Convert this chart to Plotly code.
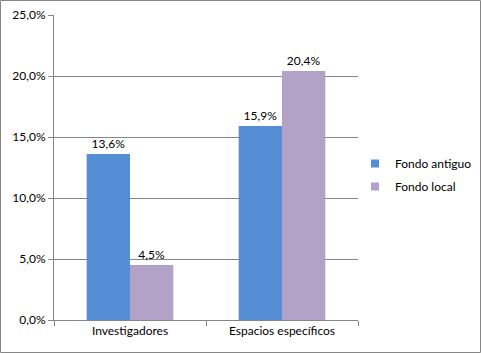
import plotly.graph_objects as go

categories = ["Investigadores", "Espacios específicos"]
series_names = ["Fondo antiguo", "Fondo local"]
fondo_antiguo = [0.136, 0.159]
fondo_local = [0.045, 0.204]
y_ticks = [0, 0.05, 0.10, 0.15, 0.20, 0.25]

colors = ["#558ED5", "#B3A2C7"]
W, H = 481, 353
ml, mr, mt, mb = 54, 123, 15, 33
pw, ph = W - ml - mr, H - mt - mb
FONT = "Lato, Open Sans, sans-serif"

fig = go.Figure()
for name, vals, c in zip(series_names, [fondo_antiguo, fondo_local], colors):
    fig.add_trace(go.Bar(
        x=categories, y=vals, name=name, marker=dict(color=c, line=dict(width=0)),
        texttemplate="%{y:.1%}", textposition="outside",
        textfont=dict(family=FONT, size=12, color="#000"),
        cliponaxis=False, showlegend=False, legendgroup=name,
    ))
# legend entries with small square keys, as in the reference
for name, c in zip(series_names, colors):
    fig.add_trace(go.Scatter(
        x=[None], y=[None], mode="markers", name=name, legendgroup=name,
        marker=dict(symbol="square", size=8, color=c), showlegend=True,
    ))

fig.update_layout(
    width=W, height=H, margin=dict(l=ml, r=mr, t=mt, b=mb, autoexpand=False),
    paper_bgcolor="white", plot_bgcolor="white",
    separators=",.", barmode="group", bargap=0.43, bargroupgap=0,
    font=dict(family=FONT, size=12, color="#000"),
    showlegend=True,
    legend=dict(x=(355 - ml) / pw, xanchor="left", y=(320 - 175) / ph, yanchor="middle",
                font=dict(size=12), tracegroupgap=4, itemwidth=30, bgcolor="rgba(0,0,0,0)"),
    xaxis=dict(showline=True, linecolor="#868686", linewidth=1, ticks="outside",
               tickson="boundaries", ticklen=5, tickcolor="#868686", showgrid=False,
               automargin=False),
    yaxis=dict(range=[0, 0.25], tickvals=y_ticks, tickformat=".1%", showgrid=True,
               gridcolor="#868686", gridwidth=1, showline=True, linecolor="#868686",
               ticks="outside", ticklen=5, tickcolor="#868686", zeroline=False,
               automargin=False),
    shapes=[dict(type="rect", xref="paper", yref="paper",
                 x0=(0.5 - ml) / pw, x1=(W - 0.5 - ml) / pw,
                 y0=-(mb - 0.5) / ph, y1=1 + (mt - 0.5) / ph,
                 line=dict(color="#868686", width=1))],
)

fig.write_html("out.html")
